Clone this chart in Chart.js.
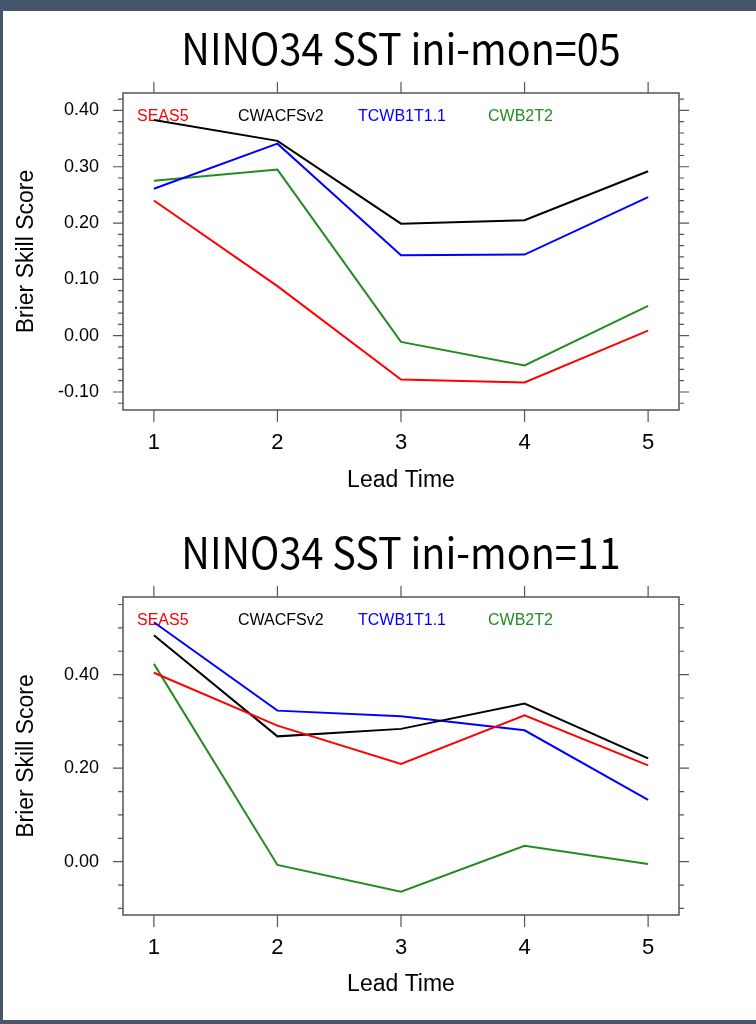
<!DOCTYPE html>
<html>
<head>
<meta charset="utf-8">
<script src="https://cdn.jsdelivr.net/npm/chart.js@4.4.1/dist/chart.umd.min.js"></script>
<style>
  body { margin: 0; width: 756px; height: 1024px; background: #46566c; position: relative; overflow: hidden; }
  #panel { position: absolute; left: 3px; top: 11px; width: 753px; height: 1009px; background: #fff; }
  canvas { position: absolute; left: 0; }
</style>
</head>
<body>
<div id="panel"></div>
<canvas id="chart05" width="756" height="504" style="top:0"></canvas>
<canvas id="chart11" width="756" height="504" style="top:504px"></canvas>
<script>
// lead time (x) and models
const leadTimes = [1, 2, 3, 4, 5];
const modelNames = ['SEAS5', 'CWACFSv2', 'TCWB1T1.1', 'CWB2T2'];
const modelColors = ['#ff0000', '#000000', '#0000ff', '#228b22'];

// ini-mon=05
const seas5_05 = [0.240, 0.088, -0.078, -0.083, 0.009];
const cwacfs_05 = [0.383, 0.346, 0.199, 0.205, 0.292];
const tcwb_05 = [0.261, 0.341, 0.143, 0.144, 0.246];
const cwb2t2_05 = [0.275, 0.295, -0.011, -0.053, 0.053];
const yTicks05 = [-0.1, 0, 0.1, 0.2, 0.3, 0.4];

// ini-mon=11
const seas5_11 = [0.404, 0.291, 0.209, 0.313, 0.206];
const cwacfs_11 = [0.484, 0.268, 0.284, 0.338, 0.221];
const tcwb_11 = [0.512, 0.323, 0.311, 0.281, 0.132];
const cwb2t2_11 = [0.423, -0.007, -0.064, 0.034, -0.005];
const yTicks11 = [0, 0.2, 0.4];

const FONT = '"Liberation Sans", Arial, Helvetica, sans-serif';
Chart.defaults.font.family = FONT;

// where each legend label starts, from the left of the plot box
const legendX = [14, 115, 235, 365];

// frame, tick marks (major + minor), legend text and title
const ncLook = {
  id: 'ncLook',
  beforeDatasetsDraw(chart) {
    const { ctx, chartArea: a } = chart;
    ctx.save();
    ctx.font = '16px ' + FONT;
    ctx.textBaseline = 'middle';
    ctx.textAlign = 'left';
    chart.data.datasets.forEach((ds, i) => {
      ctx.fillStyle = ds.borderColor;
      ctx.fillText(ds.label, a.left + legendX[i], a.top + 24);
    });
    ctx.restore();
  },
  afterDatasetsDraw(chart, args, opts) {
    const { ctx, chartArea: a } = chart;
    const xs = chart.scales.x, ys = chart.scales.y;
    ctx.save();
    ctx.strokeStyle = '#555';
    ctx.lineWidth = 1.2;
    ctx.beginPath();
    leadTimes.forEach(v => {
      const px = xs.getPixelForValue(v);
      ctx.moveTo(px, a.bottom); ctx.lineTo(px, a.bottom + 12);
      ctx.moveTo(px, a.top); ctx.lineTo(px, a.top - 11);
    });
    opts.major.forEach(v => {
      const py = ys.getPixelForValue(v);
      ctx.moveTo(a.left - 10, py); ctx.lineTo(a.left, py);
      ctx.moveTo(a.right, py); ctx.lineTo(a.right + 10, py);
    });
    const step = opts.minorStep;
    for (let k = Math.ceil(ys.min / step); k * step <= ys.max; k++) {
      const py = ys.getPixelForValue(k * step);
      ctx.moveTo(a.left - 5, py); ctx.lineTo(a.left, py);
      ctx.moveTo(a.right, py); ctx.lineTo(a.right + 5, py);
    }
    ctx.stroke();
    ctx.lineWidth = 1.5;
    ctx.strokeRect(a.left, a.top, a.right - a.left, a.bottom - a.top);

    // title, a bit narrower than the font's own width
    ctx.fillStyle = '#000';
    ctx.font = '43px "Noto Sans CJK SC", "Noto Sans", sans-serif';
    ctx.textAlign = 'center';
    ctx.textBaseline = 'alphabetic';
    ctx.translate((a.left + a.right) / 2, 65);
    ctx.scale(0.92, 1);
    ctx.fillText(opts.title, 0, 0);
    ctx.restore();
  }
};

function makeChart(id, title, series, yMin, yMax, yTicks, minorStep, plotBottom) {
  return new Chart(document.getElementById(id), {
    type: 'line',
    data: {
      datasets: series.map((vals, i) => ({
        label: modelNames[i],
        data: leadTimes.map((x, j) => ({ x: x, y: vals[j] })),
        borderColor: modelColors[i],
        borderWidth: 2,
        pointRadius: 0,
        tension: 0,
        fill: false
      }))
    },
    options: {
      responsive: false,
      animation: false,
      events: [],
      layout: { padding: { left: 0, right: 77, top: 93, bottom: 0 } },
      plugins: {
        legend: { display: false },
        tooltip: { enabled: false },
        ncLook: { title: title, major: yTicks, minorStep: minorStep }
      },
      scales: {
        x: {
          type: 'linear',
          min: 0.75,
          max: 5.25,
          afterBuildTicks: s => { s.ticks = leadTimes.map(v => ({ value: v })); },
          afterFit: s => { s.height = 504 - plotBottom; },
          grid: { display: false, drawTicks: false },
          border: { display: false },
          ticks: { autoSkip: false, padding: 20, color: '#000', font: { size: 22 }, callback: v => String(v) },
          title: { display: true, text: 'Lead Time', color: '#000', font: { size: 23 }, padding: { top: 0, bottom: 10 } }
        },
        y: {
          min: yMin,
          max: yMax,
          afterBuildTicks: s => { s.ticks = yTicks.map(v => ({ value: v })); },
          afterFit: s => { s.width = 123; },
          grid: { display: false, drawTicks: false },
          border: { display: false },
          ticks: { autoSkip: false, padding: 24, color: '#000', font: { size: 18 }, callback: v => v.toFixed(2) },
          title: { display: true, text: 'Brier Skill Score', color: '#000', font: { size: 23 }, padding: { top: 13, bottom: 0 } }
        }
      }
    },
    plugins: [ncLook]
  });
}

makeChart('chart05', 'NINO34 SST ini-mon=05',
  [seas5_05, cwacfs_05, tcwb_05, cwb2t2_05], -0.132, 0.431, yTicks05, 0.02, 410);
makeChart('chart11', 'NINO34 SST ini-mon=11',
  [seas5_11, cwacfs_11, tcwb_11, cwb2t2_11], -0.114, 0.566, yTicks11, 0.05, 411);
</script>
</body>
</html>
